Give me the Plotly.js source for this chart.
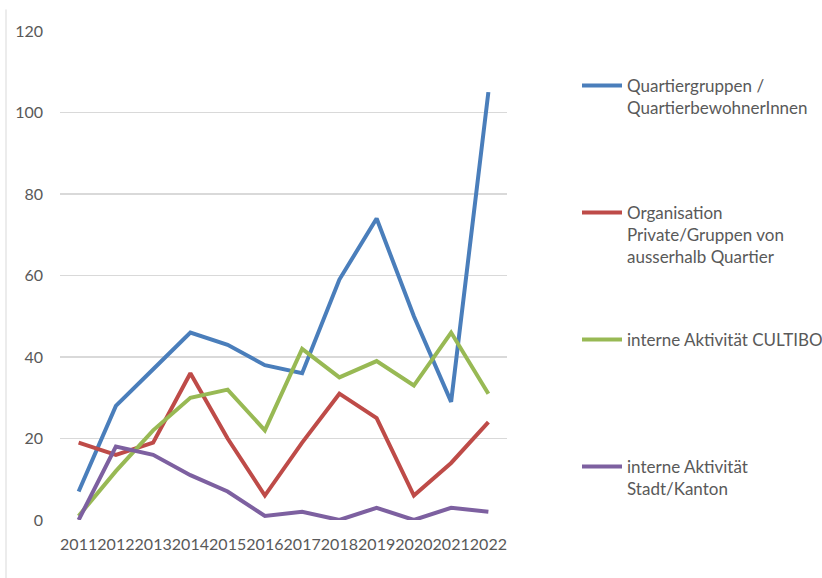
<!DOCTYPE html>
<html><head><meta charset="utf-8">
<script src="https://cdn.plot.ly/plotly-3.0.1.min.js"></script>
<style>html,body{margin:0;padding:0;background:#fff}#chart{width:822px;height:578px}</style>
</head><body><div id="chart"></div>
<script>
const years = ['2011','2012','2013','2014','2015','2016','2017','2018','2019','2020','2021','2022'];
const quartier = [7, 28, 37, 46, 43, 38, 36, 59, 74, 50, 29, 105];
const organisation = [19, 16, 19, 36, 20, 6, 19, 31, 25, 6, 14, 24];
const cultibo = [1, 12, 22, 30, 32, 22, 42, 35, 39, 33, 46, 31];
const stadt = [0, 18, 16, 11, 7, 1, 2, 0, 3, 0, 3, 2];
const names = ['Quartiergruppen /<br>QuartierbewohnerInnen','Organisation<br>Private/Gruppen von<br>ausserhalb Quartier','interne Aktivität CULTIBO','interne Aktivität<br>Stadt/Kanton'];
const colors = ['#4A7EBB','#BE4B48','#98B954','#7D60A0'];
const series = [quartier, organisation, cultibo, stadt];
const legendIds = ['legend','legend2','legend3','legend4'];
const legendY = [88, 215, 342, 469];
const traces = series.map((s,i)=>({
  type:'scatter', mode:'lines', x: years, y: s, name: names[i],
  line:{color:colors[i], width:4, shape:'linear'},
  legend: legendIds[i]
}));
const fam = 'Lato, "Liberation Sans", sans-serif';
const tickFont = {family:fam, size:16, color:'#595959'};
const layout = {
  width:822, height:578,
  margin:{l:60, r:315, t:31, b:58},
  paper_bgcolor:'#fff', plot_bgcolor:'#fff',
  font: tickFont,
  xaxis:{type:'category', range:[-0.5, 11.5], showgrid:false, zeroline:false, showline:false, ticks:'', tickfont:tickFont, tickangle:0, ticklabelstandoff:13},
  yaxis:{range:[0,120], dtick:20, tick0:0, showgrid:true, gridcolor:'#D9D9D9', gridwidth:1.5, zeroline:false, showline:false, ticks:'', tickfont:tickFont, ticklabelstandoff:16},
  showlegend:true,
  shapes:[{type:'line', xref:'paper', yref:'paper', x0:-0.1208, x1:-0.1208, y0:-0.119, y1:1.044, line:{color:'#D9D9D9', width:1}}]
};
legendIds.forEach((id,i)=>{
  layout[id] = {x:577/822, y:1-(legendY[i]-20)/578, xref:'container', yref:'container', xanchor:'left', yanchor:'top', valign:'top', bgcolor:'rgba(0,0,0,0)', font:{family:fam, size:17, color:'#595959'}, itemwidth:40, tracegroupgap:0};
});
Plotly.newPlot('chart', traces, layout, {displayModeBar:false, staticPlot:true});
</script></body></html>
